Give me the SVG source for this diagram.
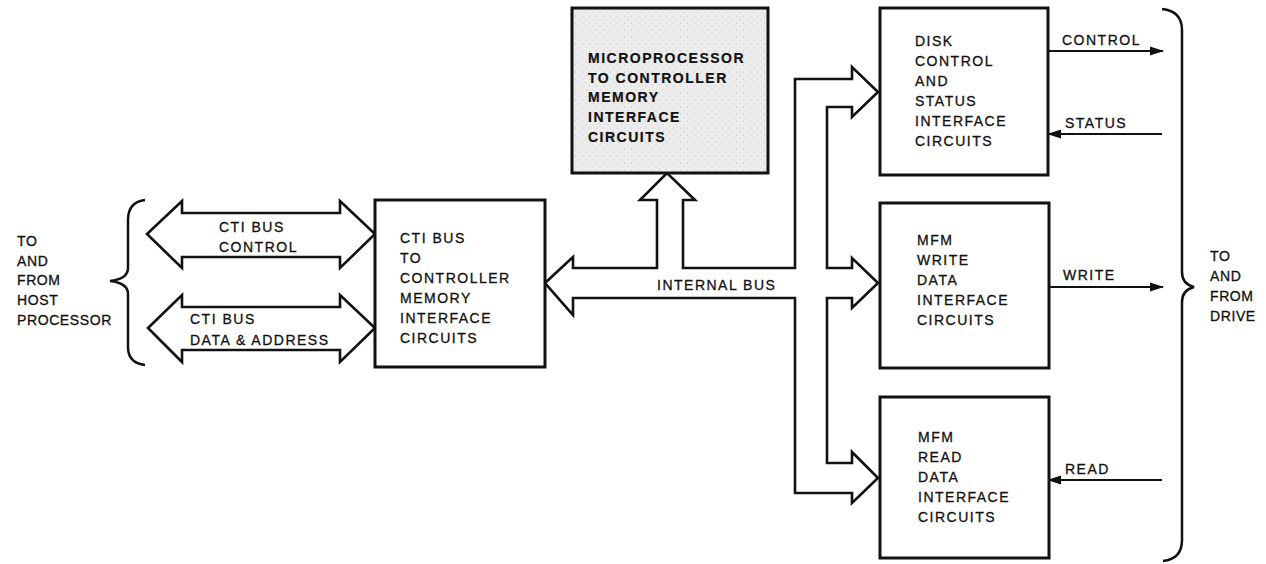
<svg xmlns="http://www.w3.org/2000/svg" width="1266" height="564" viewBox="0 0 1266 564">
<style>
  .box{fill:#fff;stroke:#111;stroke-width:3}
  .shade{stroke:#111;stroke-width:3}
  .bus{fill:#fff;stroke:#111;stroke-width:2.6;stroke-linejoin:miter}
  .sig{fill:none;stroke:#111;stroke-width:2}
  .brace{fill:none;stroke:#111;stroke-width:2.5}
  text{font-family:"Liberation Sans",Arial,sans-serif;font-size:14px;fill:#111;stroke:#111;stroke-width:0.3;letter-spacing:1.5px}
  .b{font-weight:bold;stroke-width:0.2}
  .host{letter-spacing:0.6px}
</style>
<defs>
  <marker id="ah" markerUnits="userSpaceOnUse" markerWidth="14" markerHeight="10" refX="13" refY="5" orient="auto">
    <path d="M0,0.5 L14,5 L0,9.5 Z" fill="#111"/>
  </marker>
  <pattern id="stip" width="7" height="7" patternUnits="userSpaceOnUse">
    <rect width="7" height="7" fill="#ececec"/>
    <circle cx="1.5" cy="2" r="0.6" fill="#bbb"/>
    <circle cx="5" cy="5.5" r="0.5" fill="#c4c4c4"/>
  </pattern>
</defs>

<g id="connectors">
  <path class="bus" d="M147,234 L182,201 L182,213 L340,213 L340,201 L375,234 L340,268 L340,257 L182,257 L182,268 Z"/>
  <path class="bus" d="M148,328 L182,295 L182,307 L340,307 L340,295 L375,328 L340,362 L340,350 L182,350 L182,362 Z"/>
  <path class="bus" d="M545,283 L573,257 L573,268 L657,268 L657,200 L640,200 L667,173 L695,200 L683,200 L683,268 L795,268 L795,79 L852,79 L852,67 L878,92 L852,117 L852,107 L827,107 L827,268 L852,268 L852,258 L878,283 L852,308 L852,298 L827,298 L827,463 L852,463 L852,452 L878,478 L852,503 L852,493 L795,493 L795,298 L573,298 L573,315 Z"/>
  <line class="sig" x1="1048" y1="51" x2="1163" y2="51" marker-end="url(#ah)"/>
  <line class="sig" x1="1162" y1="134" x2="1048" y2="134" marker-end="url(#ah)"/>
  <line class="sig" x1="1048" y1="287" x2="1163" y2="287" marker-end="url(#ah)"/>
  <line class="sig" x1="1162" y1="480" x2="1048" y2="480" marker-end="url(#ah)"/>
  <path class="brace" d="M145,200 Q128,202 128,220 L128,268 Q128,279 110,281 Q128,283 128,294 L128,347 Q128,363 145,365"/>
  <path class="brace" d="M1162,9 Q1182,11 1182,30 L1182,272 Q1182,284 1194,287 Q1182,290 1182,302 L1182,540 Q1182,559 1163,561"/>
</g>

<g id="labels">
  <text class="host" x="17" y="246">TO</text>
  <text class="host" x="17" y="266">AND</text>
  <text class="host" x="17" y="285">FROM</text>
  <text class="host" x="17" y="305">HOST</text>
  <text class="host" x="17" y="325">PROCESSOR</text>
  <text x="219" y="232">CTI BUS</text>
  <text x="219" y="252">CONTROL</text>
  <text x="190" y="324">CTI BUS</text>
  <text x="190" y="345">DATA &amp; ADDRESS</text>
  <text x="657" y="290">INTERNAL BUS</text>
  <text x="1062" y="45">CONTROL</text>
  <text x="1065" y="128">STATUS</text>
  <text x="1063" y="280">WRITE</text>
  <text x="1065" y="474">READ</text>
  <text class="host" x="1210" y="261">TO</text>
  <text class="host" x="1210" y="281">AND</text>
  <text class="host" x="1210" y="301">FROM</text>
  <text class="host" x="1210" y="321">DRIVE</text>
</g>

<g id="cti-interface">
  <rect class="box" x="375" y="200" width="170" height="167"/>
  <text x="400" y="243">CTI BUS</text>
  <text x="400" y="263">TO</text>
  <text x="400" y="283">CONTROLLER</text>
  <text x="400" y="303">MEMORY</text>
  <text x="400" y="323">INTERFACE</text>
  <text x="400" y="343">CIRCUITS</text>
</g>

<g id="microprocessor-interface">
  <rect class="shade" x="572" y="8" width="196" height="165" fill="url(#stip)"/>
  <text class="b" x="588" y="63">MICROPROCESSOR</text>
  <text class="b" x="588" y="83">TO CONTROLLER</text>
  <text class="b" x="588" y="102">MEMORY</text>
  <text class="b" x="588" y="122">INTERFACE</text>
  <text class="b" x="588" y="142">CIRCUITS</text>
</g>

<g id="disk-control">
  <rect class="box" x="880" y="8" width="168" height="167"/>
  <text x="915" y="46">DISK</text>
  <text x="915" y="66">CONTROL</text>
  <text x="915" y="86">AND</text>
  <text x="915" y="106">STATUS</text>
  <text x="915" y="126">INTERFACE</text>
  <text x="915" y="146">CIRCUITS</text>
</g>

<g id="mfm-write">
  <rect class="box" x="880" y="203" width="169" height="165"/>
  <text x="917" y="245">MFM</text>
  <text x="917" y="265">WRITE</text>
  <text x="917" y="285">DATA</text>
  <text x="917" y="305">INTERFACE</text>
  <text x="917" y="325">CIRCUITS</text>
</g>

<g id="mfm-read">
  <rect class="box" x="880" y="397" width="169" height="161"/>
  <text x="918" y="442">MFM</text>
  <text x="918" y="462">READ</text>
  <text x="918" y="482">DATA</text>
  <text x="918" y="502">INTERFACE</text>
  <text x="918" y="522">CIRCUITS</text>
</g>
</svg>
